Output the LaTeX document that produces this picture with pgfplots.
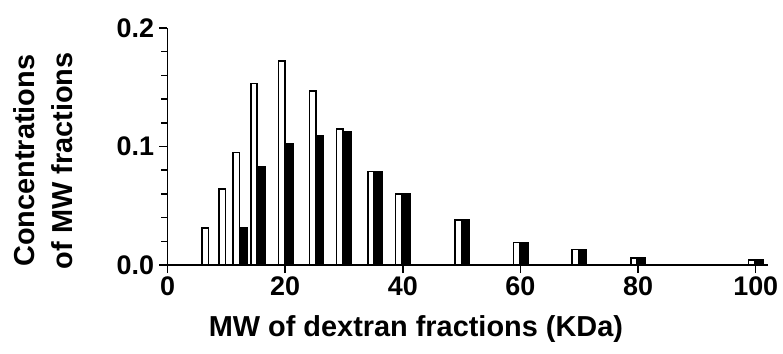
\documentclass[border=0pt]{standalone}
\usepackage{pgfplots}
\pgfplotsset{compat=1.18}
\usepackage{fontspec}
\setmainfont{Liberation Sans}
\begin{document}
\begin{tikzpicture}
\begin{axis}[
  scale only axis,
  width=600bp, height=237bp,
  xmin=0, xmax=102, ymin=0, ymax=0.2,
  axis x line=bottom, axis y line=left,
  axis line style={-, line width=1.8bp},
  xtick={0,20,40,60,80,100},
  ytick={0,0.1,0.2},
  minor y tick num=4,
  tick align=outside,
  tick style={line width=1.5bp, black},
  major tick length=8bp, minor tick length=6bp,
  /pgf/number format/assume math mode=true,
  ticklabel style={font=\fontsize{27}{27}\selectfont\bfseries},
  yticklabel style={/pgf/number format/fixed, /pgf/number format/precision=1, /pgf/number format/fixed zerofill, xshift=-2bp},
  xticklabel style={/pgf/number format/fixed},
  scaled y ticks=false,
  xlabel={MW of dextran fractions (KDa)},
  ylabel={Concentrations\\of MW fractions},
  label style={font=\fontsize{29}{38}\selectfont\bfseries, align=center},
  xlabel style={at={(axis description cs:0.414,0)}, anchor=north, yshift=-47bp},
  ylabel style={at={(axis description cs:0,0.44)}, anchor=south, yshift=91bp},
  clip=false,
]
\addplot[ybar, bar width=1.1, bar shift=0pt, fill=white, draw=black, line width=1.6bp] coordinates {
(6.4,0.031) (9.3,0.064) (11.7,0.095) (14.7,0.153) (19.4,0.172) (24.7,0.147) (29.3,0.115) (34.6,0.079) (39.3,0.060) (49.4,0.038) (59.4,0.019) (69.3,0.013) (79.3,0.006) (99.3,0.004)
};
\addplot[ybar, bar width=1.1, bar shift=0pt, fill=black, draw=black, line width=1.6bp] coordinates {
(13.0,0.031) (16.1,0.083) (20.8,0.102) (26.0,0.109) (30.6,0.112) (35.9,0.079) (40.7,0.060) (50.7,0.038) (60.7,0.019) (70.7,0.013) (80.7,0.006) (100.7,0.004)
};
\coordinate (O) at (axis cs:0,0);
\end{axis}
\pgfresetboundingbox
\path[use as bounding box] ([xshift=-167.5bp,yshift=-89bp]O) rectangle ++(783bp,354bp);
\end{tikzpicture}
\end{document}
